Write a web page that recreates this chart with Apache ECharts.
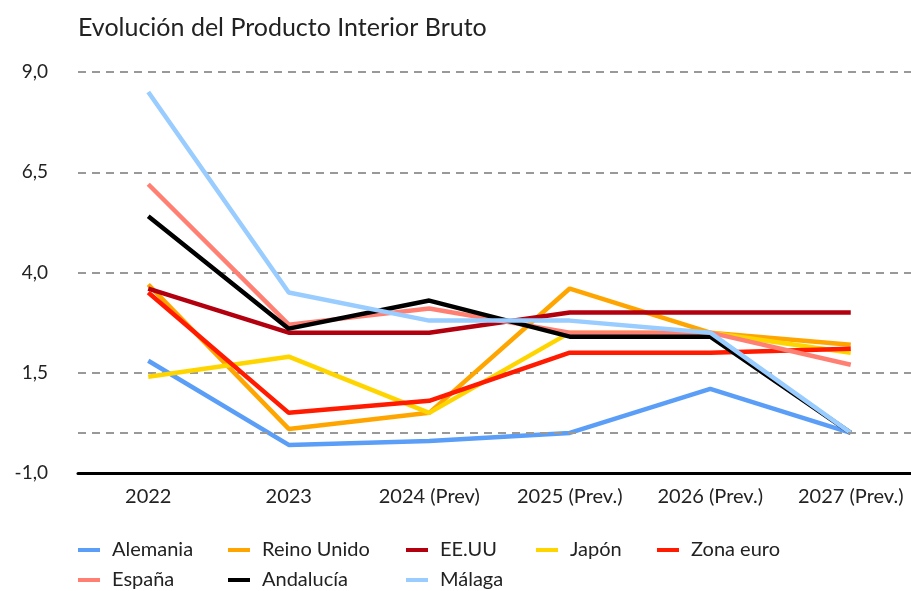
<!DOCTYPE html>
<html>
<head>
<meta charset="utf-8">
<script src="https://cdn.jsdelivr.net/npm/echarts@6/dist/echarts.min.js"></script>
<style>
  html, body { margin: 0; padding: 0; background: #fff; }
  #main { width: 911px; height: 591px; }
</style>
</head>
<body>
<div id="main"></div>
<script>
var years = ['2022', '2023', '2024 (Prev)', '2025 (Prev.)', '2026 (Prev.)', '2027 (Prev.)'];

var alemania   = [1.8, -0.3, -0.2, 0.0, 1.1, 0.0];
var reinoUnido = [3.7,  0.1,  0.5, 3.6, 2.5, 2.2];
var eeuu       = [3.6,  2.5,  2.5, 3.0, 3.0, 3.0];
var japon      = [1.4,  1.9,  0.5, 2.5, 2.5, 2.0];
var zonaEuro   = [3.5,  0.5,  0.8, 2.0, 2.0, 2.1];
var espana     = [6.2,  2.7,  3.1, 2.5, 2.5, 1.7];
var andalucia  = [5.4,  2.6,  3.3, 2.4, 2.4, 0.0];
var malaga     = [8.5,  3.5,  2.8, 2.8, 2.5, 0.0];

var names  = ['Alemania', 'Reino Unido', 'EE.UU', 'Japón', 'Zona euro', 'España', 'Andalucía', 'Málaga'];
var values = [alemania, reinoUnido, eeuu, japon, zonaEuro, espana, andalucia, malaga];
var colors = ['#5b9ef8', '#ffa500', '#b3000f', '#ffd500', '#ff1a00', '#ff7f73', '#000000', '#99ccff'];

var font = 'Lato';
var chart = echarts.init(document.getElementById('main'));

var series = names.map(function (n, i) {
    var s = {
        name: n,
        type: 'line',
        data: values[i],
        symbol: 'none',
        lineStyle: { width: 4.5, color: colors[i] },
        itemStyle: { color: colors[i] }
    };
    if (i === 0) {
        s.markLine = {
            silent: true,
            symbol: 'none',
            label: { show: false },
            lineStyle: { color: '#999', type: [8, 6], width: 2 },
            data: [{ yAxis: 0 }]
        };
    }
    return s;
});

function legendCol(left, items) {
    return {
        left: left,
        top: 540,
        height: 60,
        padding: 0,
        orient: 'vertical',
        itemGap: 10,
        icon: 'rect',
        itemWidth: 22,
        itemHeight: 4,
        textStyle: { fontFamily: font, fontSize: 20, color: '#222', padding: [0, 0, 0, 7] },
        data: items
    };
}

var option = {
    animation: false,
    title: {
        text: 'Evolución del Producto Interior Bruto',
        left: 73,
        top: 10,
        textStyle: { fontFamily: font, fontSize: 25, fontWeight: 'normal', color: '#222' }
    },
    legend: [
        legendCol(78, ['Alemania', 'España']),
        legendCol(228, ['Reino Unido', 'Andalucía']),
        legendCol(406, ['EE.UU', 'Málaga']),
        legendCol(536, ['Japón']),
        legendCol(657, ['Zona euro'])
    ],
    grid: { left: 78, top: 72, width: 843, height: 401, outerBoundsMode: 'none' },
    xAxis: {
        type: 'category',
        data: years,
        boundaryGap: true,
        axisLine: { onZero: false, lineStyle: { color: '#000', width: 3 } },
        axisTick: { show: false },
        axisLabel: { fontFamily: font, fontSize: 20, color: '#222', margin: 14 }
    },
    yAxis: {
        type: 'value',
        min: -1,
        max: 9,
        interval: 2.5,
        axisLine: { show: false },
        axisTick: { show: false },
        axisLabel: {
            fontFamily: font, fontSize: 19, color: '#222', margin: 30,
            formatter: function (v) { return v.toFixed(1).replace('.', ','); }
        },
        splitLine: { lineStyle: { color: '#999', type: [8, 6], width: 2 } }
    },
    series: series
};

chart.setOption(option);
</script>
</body>
</html>
